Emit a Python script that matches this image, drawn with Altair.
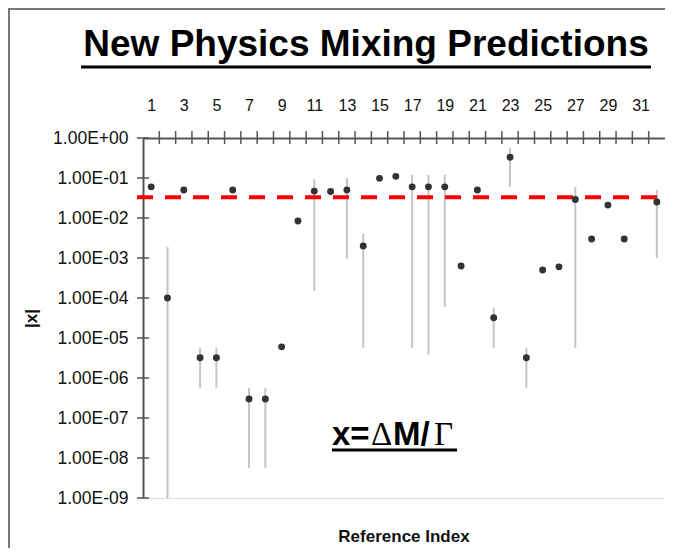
import altair as alt
import pandas as pd

# ---- data ----
ref_index = [1, 2, 3, 4, 5, 6, 7, 8, 9, 10, 11, 12, 13, 14, 15, 16,
             17, 18, 19, 20, 21, 22, 23, 24, 25, 26, 27, 28, 29, 30, 32]
x_value = [0.06, 1.0e-4, 0.05, 3.2e-6, 3.2e-6, 0.05, 3.0e-7, 3.0e-7, 6.0e-6, 8.4e-3,
           0.047, 0.046, 0.05, 2.0e-3, 0.098, 0.11, 0.06, 0.06, 0.06, 6.3e-4,
           0.05, 3.2e-5, 0.33, 3.2e-6, 5.0e-4, 6.0e-4, 0.029, 3.0e-3, 0.021, 3.0e-3, 0.025]

err_index = [2, 4, 5, 7, 8, 11, 13, 14, 17, 18, 19, 22, 23, 24, 27, 32]
err_high = [1.9e-3, 5.7e-6, 5.7e-6, 5.7e-7, 5.7e-7, 0.093, 0.10, 4.0e-3, 0.12, 0.12,
            0.12, 5.7e-5, 0.57, 5.7e-6, 0.06, 0.05]
err_low = [1.0e-9, 5.7e-7, 5.7e-7, 5.7e-9, 5.7e-9, 1.5e-4, 9.6e-4, 5.7e-6, 5.7e-6, 3.9e-6,
           6.0e-5, 5.7e-6, 0.06, 5.7e-7, 5.7e-6, 1.0e-3]

n_categories = 32
x_tick_labels = [1, 3, 5, 7, 9, 11, 13, 15, 17, 19, 21, 23, 25, 27, 29, 31]
y_tick_values = [1e0, 1e-1, 1e-2, 1e-3, 1e-4, 1e-5, 1e-6, 1e-7, 1e-8, 1e-9]
threshold = [0.033]

title_text = "New Physics Mixing Predictions"
x_title = "Reference Index"
y_title = "|x|"

W, H = 522, 360

pts = pd.DataFrame({"idx": ref_index, "x": x_value})
errs = pd.DataFrame({"idx": err_index, "hi": err_high, "lo": err_low})
xticks = pd.DataFrame({"b": [i + 0.5 for i in range(1, n_categories)]})
yticks = pd.DataFrame({"v": y_tick_values})
thr = pd.DataFrame({"t": threshold})

xscale = alt.Scale(domain=[0.5, n_categories + 0.5], nice=False, zero=False)
yscale = alt.Scale(type="log", domain=[1e-9, 1], nice=False)

label_expr = ("'1.00E' + (round(log(datum.value)/LN10) < 0 ? '-' : '+') + "
              "(abs(round(log(datum.value)/LN10)) < 10 ? '0' : '') + "
              "abs(round(log(datum.value)/LN10))")

x_axis = alt.Axis(
    orient="top", values=x_tick_labels, format="d", ticks=False, tickSize=0,
    labelPadding=25, labelFontSize=16, labelFont="Liberation Sans",
    labelOverlap=False, labelFlush=False,
    labelColor="#111", domainColor="#555", domainWidth=2, grid=False, title=None)
y_axis = alt.Axis(
    orient="left", values=y_tick_values, labelExpr=label_expr, ticks=False, tickSize=0,
    labelPadding=15, labelFontSize=17.5, labelFont="Liberation Sans", labelColor="#111",
    labelOverlap=False, labelFlush=False,
    domainColor="#555", domainWidth=2, grid=False, title=y_title,
    titleFont="Liberation Sans", titleFontSize=17, titleFontWeight="bold",
    titleX=-112, titleY=H / 2, titleAngle=-90, titleAlign="center",
    titleBaseline="middle", titleColor="#111")


def X(field):
    return alt.X(field, type="quantitative", scale=xscale, axis=x_axis)


def Y(field):
    return alt.Y(field, type="quantitative", scale=yscale, axis=y_axis)


err_layer = alt.Chart(errs).mark_rule(color="#c4c4c4", strokeWidth=2).encode(
    x=X("idx"), y=Y("hi"), y2="lo:Q",
)

thr_layer = alt.Chart(thr).mark_rule(color="#ff0000", strokeWidth=4,
                                      strokeDash=[16, 12]).encode(
    y=Y("t"), x=alt.value(-6), x2=alt.value(W),
)

pt_layer = alt.Chart(pts).mark_circle(color="#333333", opacity=1, size=48).encode(
    x=X("idx"), y=Y("x"),
)

xtick_layer = alt.Chart(xticks).mark_rule(color="#555", strokeWidth=1.5).encode(
    x=X("b"), y=alt.value(-7), y2=alt.value(6),
)
ytick_layer = alt.Chart(yticks).mark_rule(color="#555", strokeWidth=1.5).encode(
    y=Y("v"), x=alt.value(-6), x2=alt.value(6),
)

base_txt = alt.Chart(pd.DataFrame({"k": [0]}))

title_layer = base_txt.mark_text(text=title_text, font="Liberation Sans", fontSize=37,
                                 fontWeight="bold", align="center", baseline="alphabetic",
                                 color="#000").encode(x=alt.value(223), y=alt.value(-82))
title_ul = base_txt.mark_rule(color="#000", strokeWidth=3).encode(
    x=alt.value(-62), x2=alt.value(508), y=alt.value(-71))

xtitle_layer = base_txt.mark_text(text=x_title, font="Liberation Sans", fontSize=17,
                                  fontWeight="bold", align="center", baseline="middle",
                                  color="#111").encode(x=alt.value(W / 2), y=alt.value(399))

fy = 307
f1 = base_txt.mark_text(text="x=", font="Liberation Sans", fontSize=33, fontWeight="bold",
                        align="left", baseline="alphabetic", color="#000").encode(
    x=alt.value(189), y=alt.value(fy))
f2 = base_txt.mark_text(text="Δ", font="Liberation Serif", fontSize=33,
                        align="left", baseline="alphabetic", color="#000").encode(
    x=alt.value(228), y=alt.value(fy))
f3 = base_txt.mark_text(text="M/", font="Liberation Sans", fontSize=33, fontWeight="bold",
                        align="left", baseline="alphabetic", color="#000").encode(
    x=alt.value(250), y=alt.value(fy))
f4 = base_txt.mark_text(text="Γ", font="Liberation Serif", fontSize=33,
                        align="left", baseline="alphabetic", color="#000").encode(
    x=alt.value(291), y=alt.value(fy))
f_ul = base_txt.mark_rule(color="#000", strokeWidth=3).encode(
    x=alt.value(189), x2=alt.value(314), y=alt.value(312))

frame_left = base_txt.mark_rule(color="#777", strokeWidth=2).encode(
    x=alt.value(-134), y=alt.value(-130), y2=alt.value(H + 60))
frame_top = base_txt.mark_rule(color="#777", strokeWidth=2).encode(
    y=alt.value(-129), x=alt.value(-135), x2=alt.value(W + 2))

chart = alt.layer(
    err_layer, thr_layer, pt_layer, xtick_layer, ytick_layer,
    frame_left, frame_top,
    title_layer, title_ul, xtitle_layer, f1, f2, f3, f4, f_ul,
).properties(
    width=W, height=H,
    autosize=alt.AutoSizeParams(type="none"),
    padding={"left": 135, "top": 130, "right": 0, "bottom": 50},
).configure_axis(
    labelOverlap=False,
).configure_view(
    stroke="#999", strokeWidth=2.5,
).configure(background="white")

chart.save("out.html", embed_options={"renderer": "svg", "actions": False})
